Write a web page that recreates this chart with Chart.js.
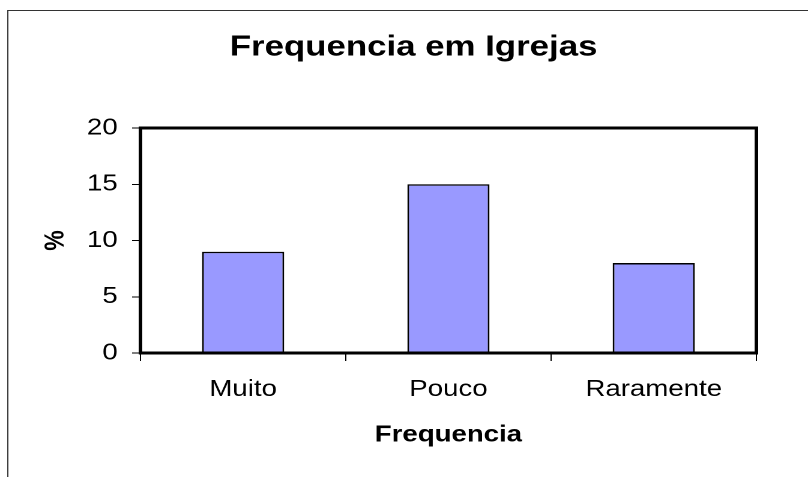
<!DOCTYPE html>
<html>
<head>
<meta charset="utf-8">
<script src="https://cdn.jsdelivr.net/npm/chart.js@4.4.1/dist/chart.umd.min.js"></script>
<style>
  html, body { margin: 0; padding: 0; background: #fff; overflow: hidden; }
  /* the original picture is stretched sideways, so stretch the canvas too */
  #chart_freq { display: block; transform: scaleX(1.2006); transform-origin: 0 0; }
</style>
</head>
<body>
<canvas id="chart_freq" width="673" height="477"></canvas>
<script>
/* 데이터 */
var categories = ['Muito', 'Pouco', 'Raramente'];
var percent = [9, 15, 8];
var y_ticks = [0, 5, 10, 15, 20];

var font_family = '"Liberation Sans", Arial, sans-serif';
Chart.defaults.font.family = font_family;
Chart.defaults.color = '#000';

/* 바깥 테두리 + 플롯 테두리 */
var frame_plugin = {
  id: 'frame',
  beforeDraw: function (chart) {
    var ctx = chart.ctx;
    ctx.save();
    ctx.fillStyle = '#fff';
    ctx.fillRect(0, 0, chart.width, chart.height);
    ctx.strokeStyle = '#333';
    ctx.lineWidth = 1;
    ctx.beginPath();
    ctx.moveTo(6.5, chart.height);
    ctx.lineTo(6.5, 10.5);
    ctx.lineTo(chart.width, 10.5);
    ctx.stroke();
    ctx.restore();
  },
  afterDatasetsDraw: function (chart) {
    var a = chart.chartArea;
    var ctx = chart.ctx;
    ctx.save();
    ctx.strokeStyle = '#000';
    ctx.lineWidth = 3;
    ctx.strokeRect(a.left, a.top, a.right - a.left, a.bottom - a.top);
    ctx.restore();
  }
};

var ctx_freq = document.getElementById('chart_freq');

var config_freq = {
  type: 'bar',
  data: {
    labels: categories,
    datasets: [{
      label: '%',
      data: percent,
      backgroundColor: '#9999FF',
      borderColor: '#000',
      borderWidth: 1.5,
      barPercentage: 1,
      categoryPercentage: 0.4,
      xAxisID: 'x',
      yAxisID: 'y'
    }]
  },
  options: {
    responsive: false,
    animation: false,
    devicePixelRatio: 2,
    layout: { padding: { left: 16, top: 0, right: 0, bottom: 0 } },
    plugins: {
      legend: { display: false },
      tooltip: { enabled: false },
      title: {
        display: true,
        text: 'Frequencia em Igrejas',
        color: '#000',
        font: { size: 29, weight: 'bold' },
        padding: { top: 30, bottom: 63.2 }
      }
    },
    scales: {
      x: {
        grid: { drawOnChartArea: false, drawTicks: true, tickLength: 8, color: '#000', lineWidth: 1 },
        border: { display: false },
        ticks: { font: { size: 23 }, padding: 15, color: '#000' },
        title: {
          display: true,
          text: 'Frequencia',
          color: '#000',
          font: { size: 23, weight: 'bold' },
          padding: { top: 0, bottom: 28 }
        },
        afterFit: function (scale) { scale.height = 124; }
      },
      y: {
        min: 0,
        max: 20,
        afterBuildTicks: function (scale) {
          scale.ticks = y_ticks.map(function (v) { return { value: v }; });
        },
        grid: { drawOnChartArea: false, drawTicks: true, tickLength: 7, color: '#000', lineWidth: 1 },
        border: { display: false },
        ticks: { font: { size: 23 }, padding: 12, color: '#000' },
        title: {
          display: true,
          text: '%',
          color: '#000',
          font: { size: 23, weight: 'bold' },
          padding: { top: 17, bottom: 0 }
        },
        afterFit: function (scale) { scale.width = 101; }
      },
      // 오른쪽 여백용 (아무것도 안 그림)
      y_space: {
        type: 'linear',
        position: 'right',
        grid: { display: false },
        border: { display: false },
        ticks: { display: false },
        afterFit: function (scale) { scale.width = 43; }
      }
    }
  },
  plugins: [frame_plugin]
};

var chart_freq = new Chart(ctx_freq, config_freq);
</script>
</body>
</html>
